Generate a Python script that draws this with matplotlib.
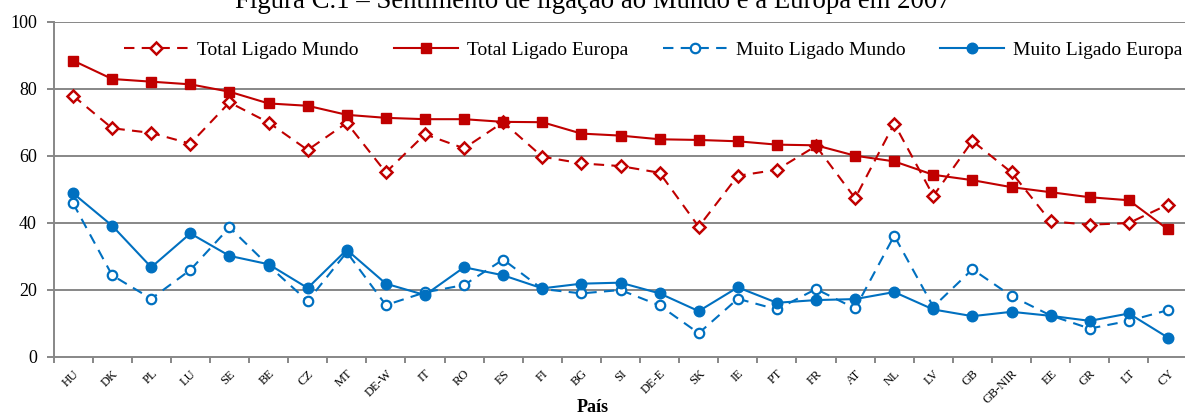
import matplotlib
matplotlib.use("Agg")
import matplotlib.pyplot as plt

paises = ["HU", "DK", "PL", "LU", "SE", "BE", "CZ", "MT", "DE-W", "IT", "RO", "ES", "FI", "BG",
          "SI", "DE-E", "SK", "IE", "PT", "FR", "AT", "NL", "LV", "GB", "GB-NIR", "EE", "GR", "LT", "CY"]

total_mundo = [77.9, 68.2, 66.8, 63.6, 75.9, 69.9, 61.7, 69.8, 55.0, 66.4, 62.2, 70.0, 59.7, 57.7,
               56.9, 54.9, 38.8, 54.0, 55.8, 62.9, 47.3, 69.6, 48.0, 64.4, 55.0, 40.4, 39.4, 39.9, 45.4]
total_europa = [88.4, 82.9, 82.1, 81.3, 79.1, 75.6, 74.9, 72.2, 71.3, 70.9, 70.9, 70.1, 70.0, 66.6,
                66.0, 64.9, 64.7, 64.3, 63.3, 63.1, 60.0, 58.3, 54.3, 52.7, 50.6, 49.1, 47.6, 46.7, 38.0]
muito_mundo = [45.8, 24.3, 17.3, 25.9, 38.6, 27.2, 16.6, 31.2, 15.4, 19.2, 21.4, 29.0, 20.2, 18.9,
               19.9, 15.3, 7.0, 17.3, 14.1, 20.2, 14.4, 36.1, 14.9, 26.1, 18.1, 12.3, 8.4, 10.7, 13.9]
muito_europa = [48.8, 39.1, 26.7, 36.8, 30.1, 27.6, 20.5, 31.9, 21.8, 18.4, 26.7, 24.3, 20.4, 21.8,
                22.1, 18.9, 13.6, 20.7, 16.1, 16.9, 17.2, 19.3, 14.1, 12.1, 13.4, 12.2, 10.7, 12.9, 5.7]

yticks = [0, 20, 40, 60, 80, 100]

RED = "#C00000"
BLUE = "#0070C0"
GRID = "#878787"
FONT = "Liberation Serif"

plt.rcParams["font.family"] = FONT

W, H = 1185, 415
fig = plt.figure(figsize=(W / 100, H / 100), dpi=100)
left_px, right_px = 53.5, 1187.5
top_px, bot_px = 21.7, 356.7
ax = fig.add_axes([left_px / W, 1 - bot_px / H, (right_px - left_px) / W, (bot_px - top_px) / H])

x = list(range(len(paises)))
dash = (0, (5, 3.5))
ax.plot(x, total_mundo, color=RED, lw=1.5, ls=dash, marker="D", ms=6.4, mfc="white",
        mec=RED, mew=1.8, label="Total Ligado Mundo", zorder=3)
ax.plot(x, total_europa, color=RED, lw=1.5, ls="-", marker="s", ms=7, mfc=RED,
        mec=RED, label="Total Ligado Europa", zorder=3)
ax.plot(x, muito_mundo, color=BLUE, lw=1.5, ls=dash, marker="o", ms=6.8, mfc="white",
        mec=BLUE, mew=1.6, label="Muito Ligado Mundo", zorder=3)
ax.plot(x, muito_europa, color=BLUE, lw=1.5, ls="-", marker="o", ms=7.6, mfc=BLUE,
        mec=BLUE, label="Muito Ligado Europa", zorder=3)

ax.set_xlim(-0.5, len(paises) - 0.5)
ax.set_ylim(0, 100)
ax.set_yticks(yticks)
ax.set_yticklabels([str(v) for v in yticks], fontsize=13)
for v in yticks[1:]:
    ax.axhline(v, color=GRID, lw=1.4, zorder=1)

ax.set_xticks(x)
ax.set_xticklabels(paises, rotation=45, ha="right", rotation_mode="anchor", fontsize=9)
ax.set_xticks([i - 0.5 for i in range(len(paises) + 1)], minor=True)
ax.tick_params(axis="x", which="major", length=0, pad=8)
ax.tick_params(axis="x", which="minor", length=4, width=1.4, color=GRID, direction="out")
ax.tick_params(axis="y", length=5, width=1.4, color=GRID, direction="out", pad=7)

for s in ["top", "right"]:
    ax.spines[s].set_visible(False)
for s in ["left", "bottom"]:
    ax.spines[s].set_color(GRID)
    ax.spines[s].set_linewidth(1.4)

leg = ax.legend(loc="center", bbox_to_anchor=(0.529, 0.9155), ncol=4, frameon=False,
                fontsize=14, handlelength=3.3, handletextpad=0.45, columnspacing=1.8,
                borderaxespad=0)

fig.text(0.5, 1 - 8 / H, "Figura C.1 – Sentimento de ligação ao Mundo e à Europa em 2007",
         ha="center", va="baseline", fontsize=19.3)
fig.text(0.5, 1 - 412 / H, "País", ha="center", va="baseline", fontsize=13, fontweight="bold")

fig.savefig("out.png", dpi=100)
